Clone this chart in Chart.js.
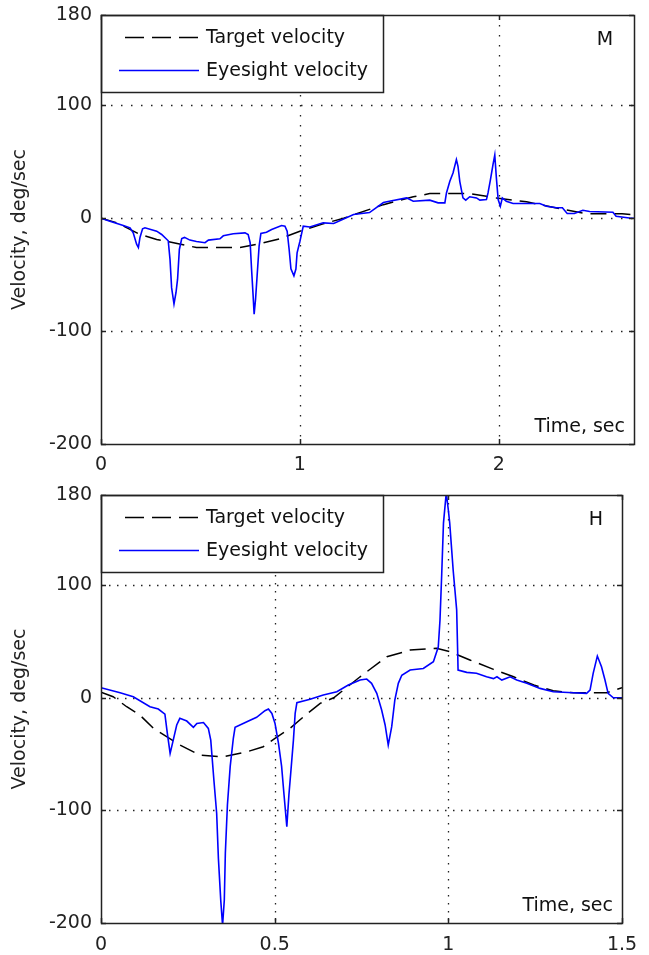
<!DOCTYPE html>
<html>
<head>
<meta charset="utf-8">
<script src="https://cdn.jsdelivr.net/npm/chart.js@4.4.1/dist/chart.umd.min.js"></script>
<style>
  html, body { margin: 0; padding: 0; background: #fff; }
  #wrap { position: relative; width: 649px; height: 955px; overflow: hidden; }
  canvas { position: absolute; left: 0; }
</style>
</head>
<body>
<div id="wrap">
  <canvas id="chartM" width="649" height="487" style="top:-9px"></canvas>
  <canvas id="chartH" width="649" height="484" style="top:471px"></canvas>
</div>
<script>
// ===== DATA =====
const seriesNames = ["Target velocity", "Eyesight velocity"];
const yTicks = [-200, -100, 0, 100, 180];
const mXTicks = [0, 1, 2];
const hXTicks = [0, 0.5, 1, 1.5];

// panel M
const mEyeT = [0, 0.045, 0.112, 0.146, 0.162, 0.179, 0.188, 0.196, 0.209, 0.221,
  0.28, 0.305, 0.338, 0.347, 0.355, 0.367, 0.377, 0.385, 0.394, 0.406,
  0.42, 0.447, 0.48, 0.523, 0.54, 0.598, 0.615, 0.665, 0.724, 0.74,
  0.75, 0.757, 0.765, 0.77, 0.777, 0.785, 0.795, 0.804, 0.832, 0.858,
  0.908, 0.925, 0.936, 0.946, 0.955, 0.97, 0.98, 0.986, 1.0, 1.017,
  1.05, 1.117, 1.17, 1.27, 1.35, 1.42, 1.45, 1.536, 1.57, 1.653,
  1.695, 1.729, 1.737, 1.754, 1.77, 1.787, 1.795, 1.804, 1.82, 1.834,
  1.854, 1.888, 1.905, 1.938, 1.946, 1.958, 1.971, 1.98, 1.988, 1.997,
  2.008, 2.018, 2.038, 2.072, 2.206, 2.24, 2.29, 2.32, 2.344, 2.38,
  2.423, 2.457, 2.574, 2.59, 2.666, 2.68];
const mEyeV = [0, -2.6, -6.5, -8.5, -13, -23, -26, -17, -9.4, -8.5,
  -11.5, -14.4, -20, -36.5, -61.5, -76, -66, -54, -27.7, -18,
  -17, -19.4, -20.6, -21.7, -19.4, -18.2, -15.6, -13.8, -13, -14.4,
  -21.7, -45, -69, -85, -72, -51, -24.7, -13.5, -12.4, -10,
  -6.5, -7, -11.5, -27.7, -44.8, -51, -45, -30.6, -20.6, -7,
  -7.8, -4.1, -4.7, 3.3, 5, 13.9, 15, 18, 15, 16,
  13.6, 13.6, 22.4, 32.7, 40, 51.9, 46, 32.7, 18, 16,
  19, 18, 16, 16.5, 22.4, 34, 47.5, 56, 35.7, 16.5,
  10.6, 18, 15, 13, 13, 10.6, 9.2, 9.2, 4.2, 4.2,
  7, 6, 5.3, 1.8, 0, 0];
const mTargetT = [0, 0.079, 0.196, 0.28, 0.347, 0.48, 0.698, 0.782, 0.9, 1.0, 1.117,
  1.22, 1.42, 1.57, 1.653, 1.854, 1.988, 2.14, 2.29, 2.44, 2.62, 2.68];
const mTargetV = [0, -4, -14.4, -18.8, -21, -26, -26, -23.2, -18.2, -11.5, -5,
  0, 12, 19, 21.8, 21.8, 18, 14.5, 9, 4, 4, 3];

// panel H
const hEyeT = [0, 0.055, 0.093, 0.141, 0.165, 0.184, 0.191, 0.199, 0.208, 0.218,
  0.227, 0.247, 0.266, 0.276, 0.295, 0.309, 0.316, 0.325, 0.333, 0.338,
  0.345, 0.35, 0.355, 0.358, 0.364, 0.372, 0.381, 0.386, 0.42, 0.448,
  0.472, 0.482, 0.492, 0.501, 0.511, 0.52, 0.527, 0.535, 0.541, 0.547,
  0.554, 0.559, 0.564, 0.602, 0.64, 0.679, 0.712, 0.746, 0.765, 0.779,
  0.794, 0.808, 0.818, 0.827, 0.837, 0.846, 0.856, 0.866, 0.89, 0.928,
  0.957, 0.971, 0.976, 0.981, 0.986, 0.994, 1.0, 1.004, 1.014, 1.024,
  1.027, 1.028, 1.053, 1.081, 1.11, 1.13, 1.14, 1.154, 1.178, 1.197,
  1.226, 1.264, 1.302, 1.36, 1.398, 1.408, 1.417, 1.429, 1.441, 1.451,
  1.46, 1.475, 1.494, 1.5];
const hEyeV = [8.9, 4.4, 0.9, -8, -10, -14.5, -31.6, -49.4, -37.6, -24.2,
  -18.3, -20.7, -26.3, -22.8, -22, -27.2, -37.6, -73, -102.6, -142.6,
  -181, -202, -179.6, -138, -95, -61, -36, -26.3, -21.3, -17.4,
  -11.5, -10, -13.9, -22.8, -40.5, -61, -86.4, -114.5, -86.4, -64,
  -37.6, -13.9, -4.4, -1.4, 2.4, 5.3, 11.3, 15.7, 16.6, 12.8,
  3.9, -10.9, -24.2, -42, -25.7, -2, 12.8, 20, 24.6, 26,
  32, 45, 69, 110, 155, 182, 166.7, 155, 113, 78,
  39.4, 24.6, 22.5, 21.7, 18.6, 17, 18.6, 15.7, 18.6, 15.7,
  12.8, 8.3, 5.3, 4.4, 3.9, 6.8, 21.7, 37, 27.5, 15.7,
  3.9, 0, 0, 0];
const hTargetT = [0, 0.035, 0.074, 0.112, 0.151, 0.189, 0.227, 0.285, 0.352, 0.42,
  0.467, 0.501, 0.544, 0.583, 0.631, 0.67, 0.746, 0.823, 0.89, 0.966,
  1.004, 1.062, 1.13, 1.188, 1.246, 1.302, 1.36, 1.456, 1.5];
const hTargetV = [5, 0.9, -8, -15.4, -27.2, -34.6, -42, -51, -52.4, -48,
  -43.5, -36, -27.2, -16.9, -5, 0, 18.6, 36.4, 42.3, 43.9,
  41, 33.5, 25.2, 18.6, 11.3, 6.2, 4.4, 4.4, 9];

// ===== DRAWING =====
const FONT = '"DejaVu Sans", sans-serif';
const FSIZE = 19;
const INK = "#222";
const BLUE = "#0000ff";
const TARGET_DASH = [16, 8];

function pts(t, v) {
  return t.map((x, i) => ({ x: x, y: v[i] }));
}

function seg(ctx, x1, y1, x2, y2) {
  ctx.beginPath();
  ctx.moveTo(x1, y1);
  ctx.lineTo(x2, y2);
  ctx.stroke();
}

// matlab style box, dotted grid, inward ticks, legend and labels
const matlabAxes = {
  id: "matlabAxes",
  beforeDatasetsDraw(chart, args, o) {
    const { ctx, chartArea: a, scales: { x, y } } = chart;
    ctx.save();
    ctx.strokeStyle = INK;
    ctx.lineWidth = 1.3;
    ctx.setLineDash([1.5, o.gap]);
    x.ticks.forEach(tk => {
      if (tk.value <= x.min || tk.value >= x.max) return;
      const px = Math.round(x.getPixelForValue(tk.value)) + 0.5;
      seg(ctx, px, a.top, px, a.bottom);
    });
    y.ticks.forEach(tk => {
      if (tk.value <= y.min || tk.value >= y.max) return;
      const py = Math.round(y.getPixelForValue(tk.value)) + 0.5;
      seg(ctx, a.left, py, a.right, py);
    });
    ctx.restore();
  },
  afterDatasetsDraw(chart, args, o) {
    const { ctx, chartArea: a, scales: { x, y } } = chart;
    ctx.save();
    ctx.strokeStyle = INK;
    ctx.lineWidth = 1.5;
    ctx.setLineDash([]);
    // inward ticks
    x.ticks.forEach(tk => {
      const px = Math.round(x.getPixelForValue(tk.value)) + 0.5;
      seg(ctx, px, a.bottom, px, a.bottom - 5);
      seg(ctx, px, a.top, px, a.top + 5);
    });
    y.ticks.forEach(tk => {
      const py = Math.round(y.getPixelForValue(tk.value)) + 0.5;
      seg(ctx, a.left, py, a.left + 5, py);
      seg(ctx, a.right, py, a.right - 5, py);
    });

    // legend
    const lx = a.left, ly = a.top, lw = 282, lh = 77;
    ctx.fillStyle = "#fff";
    ctx.fillRect(lx, ly, lw, lh);
    ctx.strokeRect(lx + 0.5, ly + 0.5, lw, lh);

    ctx.strokeStyle = "#000";
    ctx.lineWidth = 1.5;
    ctx.setLineDash([19, 8]);
    seg(ctx, lx + 24, ly + 22.5, lx + 98, ly + 22.5);
    ctx.setLineDash([]);
    ctx.strokeStyle = BLUE;
    ctx.lineWidth = 1.6;
    seg(ctx, lx + 18, ly + 55.5, lx + 98, ly + 55.5);

    ctx.fillStyle = "#111";
    ctx.font = FSIZE + "px " + FONT;
    ctx.textBaseline = "middle";
    ctx.textAlign = "left";
    ctx.fillText(seriesNames[0], lx + 105, ly + 23);
    ctx.fillText(seriesNames[1], lx + 105, ly + 56);

    // panel letter and axis label
    ctx.textAlign = "center";
    ctx.fillText(o.letter, a.right - o.letterDx, a.top + 25);
    ctx.textAlign = "right";
    ctx.fillText("Time, sec", a.right - 9, a.bottom - 17);

    // frame
    ctx.strokeStyle = INK;
    ctx.lineWidth = 1.5;
    ctx.strokeRect(Math.round(a.left) + 0.5, Math.round(a.top) + 0.5,
      Math.round(a.right - a.left), Math.round(a.bottom - a.top));
    ctx.restore();
  }
};

function makePanel(id, cfg) {
  const tickFont = { family: FONT, size: FSIZE };
  return new Chart(document.getElementById(id), {
    type: "line",
    data: {
      datasets: [
        {
          label: seriesNames[1],
          data: pts(cfg.eyeT, cfg.eyeV),
          borderColor: BLUE,
          borderWidth: 1.6,
          pointRadius: 0,
          tension: 0,
          order: 0
        },
        {
          label: seriesNames[0],
          data: pts(cfg.targetT, cfg.targetV),
          borderColor: "#000",
          borderWidth: 1.5,
          borderDash: TARGET_DASH,
          pointRadius: 0,
          tension: 0,
          order: 1
        }
      ]
    },
    options: {
      responsive: false,
      animation: false,
      devicePixelRatio: 1,
      layout: { padding: { left: 0, top: 24, right: cfg.right, bottom: 0 } },
      plugins: {
        legend: { display: false },
        tooltip: { enabled: false },
        matlabAxes: { letter: cfg.letter, letterDx: cfg.letterDx, gap: cfg.gap }
      },
      scales: {
        x: {
          type: "linear",
          min: 0,
          max: cfg.xMax,
          afterBuildTicks: s => { s.ticks = cfg.xTicks.map(v => ({ value: v })); },
          afterFit: s => { s.height = cfg.xHeight; },
          grid: { display: false, drawTicks: false },
          border: { display: false },
          ticks: {
            color: INK, font: tickFont, padding: cfg.xPad, autoSkip: false, maxRotation: 0,
            callback: v => String(v)
          }
        },
        y: {
          min: -200,
          max: 180,
          afterBuildTicks: s => { s.ticks = yTicks.map(v => ({ value: v })); },
          afterFit: s => { s.width = 101; },
          grid: { display: false, drawTicks: false },
          border: { display: false },
          ticks: { color: INK, font: tickFont, padding: 9, autoSkip: false },
          title: {
            display: true,
            text: "Velocity, deg/sec",
            color: INK,
            font: { family: FONT, size: FSIZE },
            padding: { top: 9, bottom: 0 }
          }
        }
      }
    },
    plugins: [matlabAxes]
  });
}

makePanel("chartM", {
  eyeT: mEyeT, eyeV: mEyeV, targetT: mTargetT, targetV: mTargetV,
  xMax: 2.68, xTicks: mXTicks, letter: "M", letterDx: 29, gap: 8.5,
  right: 15, xHeight: 34, xPad: 10
});

makePanel("chartH", {
  eyeT: hEyeT, eyeV: hEyeV, targetT: hTargetT, targetV: hTargetV,
  xMax: 1.5, xTicks: hXTicks, letter: "H", letterDx: 26, gap: 6.5,
  right: 27, xHeight: 32, xPad: 11
});
</script>
</body>
</html>
